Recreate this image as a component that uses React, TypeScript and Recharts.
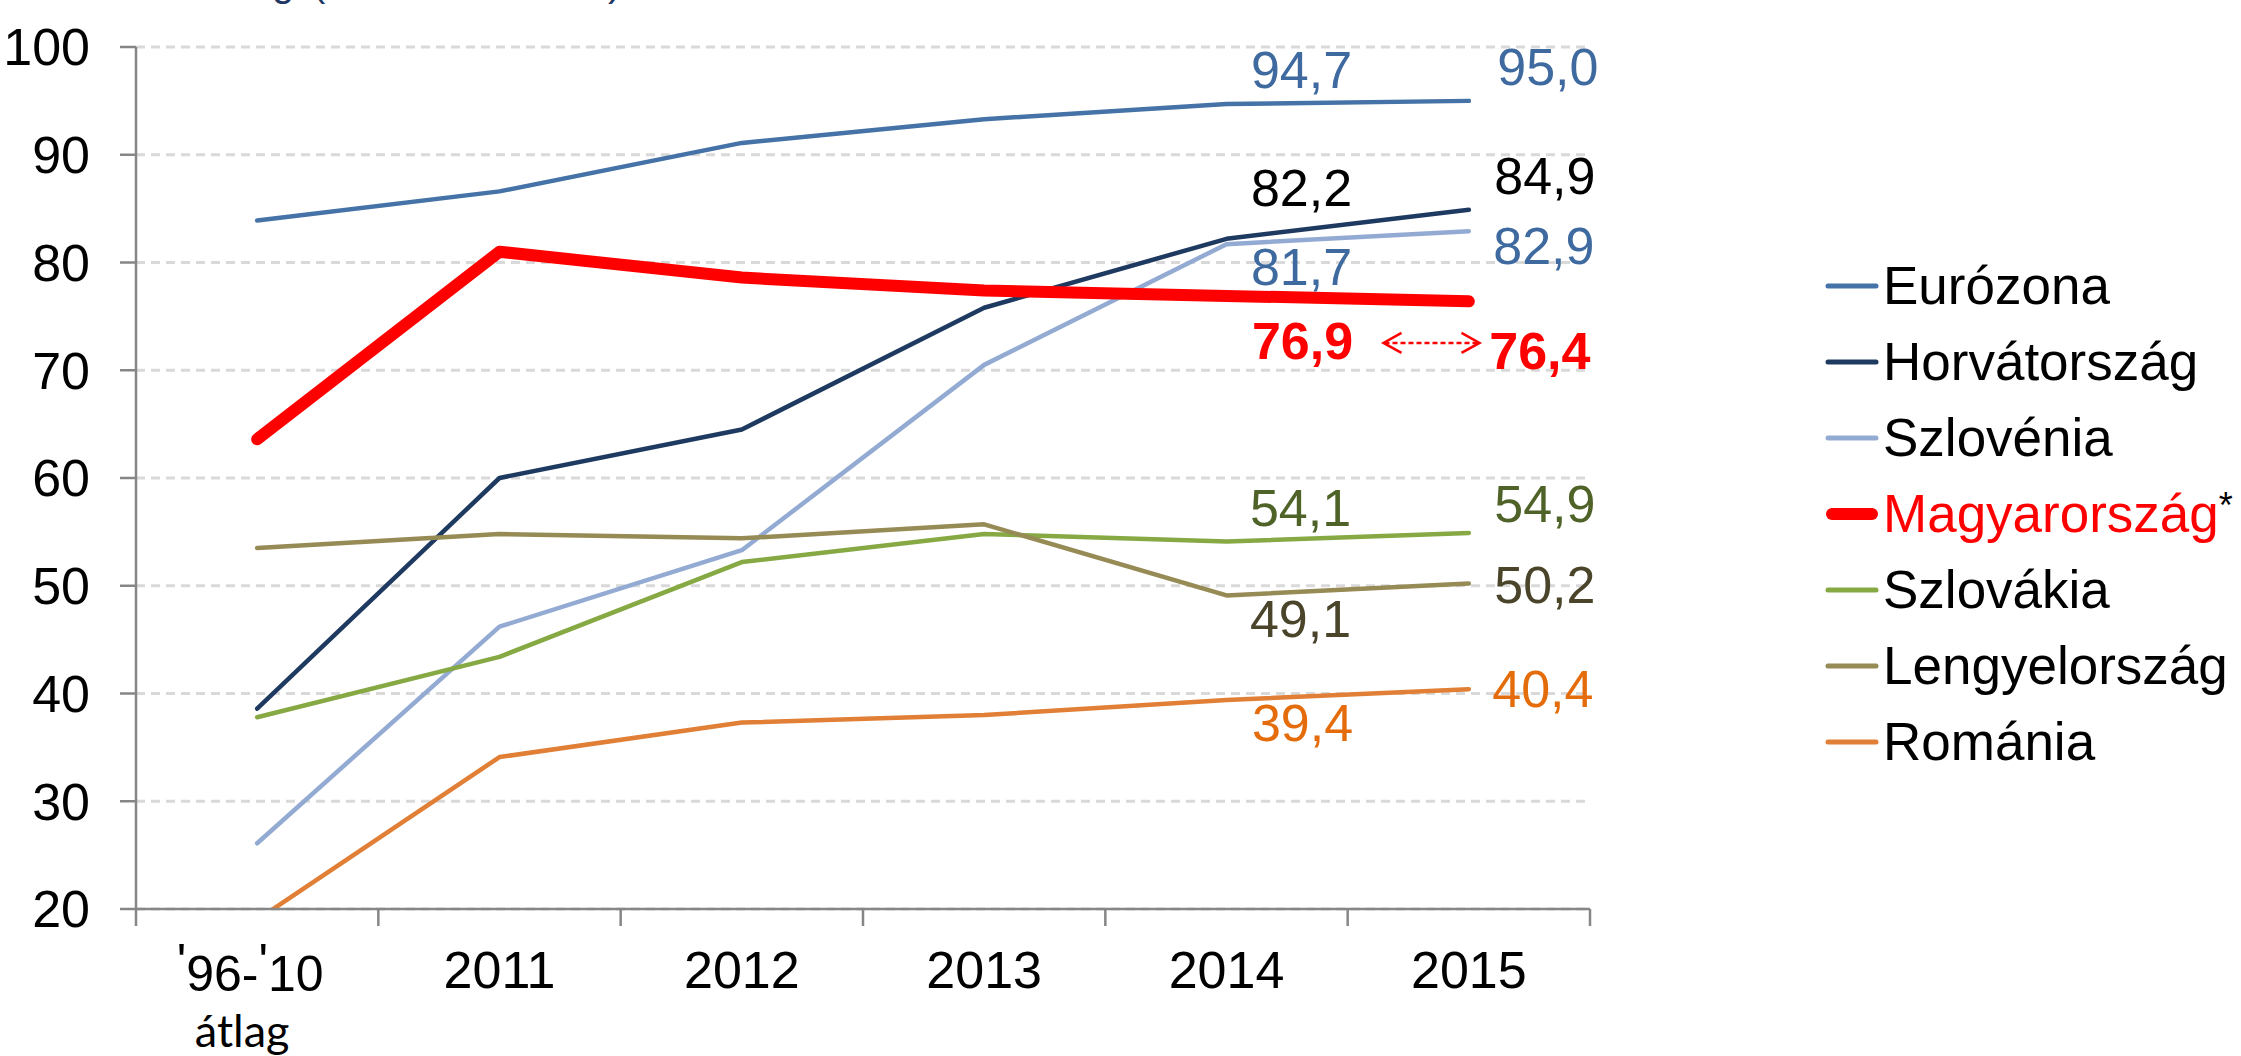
import React from 'react';
import { LineChart, Line, XAxis, YAxis, CartesianGrid, Legend, LabelList } from 'recharts';

const categories = ["'96-'10 átlag", '2011', '2012', '2013', '2014', '2015'];
const eurozona = [83.9, 86.6, 91.1, 93.3, 94.7, 95.0];
const horvatorszag = [38.6, 60.0, 64.5, 75.8, 82.2, 84.9];
const szlovenia = [26.1, 46.2, 53.3, 70.5, 81.7, 82.9];
const magyarorszag = [63.6, 81.0, 78.6, 77.4, 76.9, 76.4];
const szlovakia = [37.8, 43.4, 52.2, 54.8, 54.1, 54.9];
const lengyelorszag = [53.5, 54.8, 54.4, 55.7, 49.1, 50.2];
const romania = [19.0, 34.1, 37.3, 38.0, 39.4, 40.4];
const yTicks = [20, 30, 40, 50, 60, 70, 80, 90, 100];

const FONT = "'Liberation Sans', Arial, Helvetica, sans-serif";
const W = 2241;
const H = 1056;
const M = { top: 47, right: 651, bottom: 0, left: 0 };
const Y_W = 136;
const X_H = 147;
const PLOT_W = W - M.right - M.left - Y_W;
const BAND = PLOT_W / categories.length;

const data = categories.map((c, i) => ({
  cat: c,
  eurozona: eurozona[i],
  horvatorszag: horvatorszag[i],
  szlovenia: szlovenia[i],
  magyarorszag: magyarorszag[i],
  szlovakia: szlovakia[i],
  lengyelorszag: lengyelorszag[i],
  romania: romania[i],
}));

type SeriesDef = {
  key: string;
  name: string;
  color: string;
  width: number;
  labelColor: string;
  bold?: boolean;
  pos: [number, number][];
};

const SERIES: SeriesDef[] = [
  { key: 'eurozona', name: 'Eurózona', color: '#4572A7', width: 4.5, labelColor: '#3E6A9F', pos: [[75, -35], [79, -35]] },
  { key: 'horvatorszag', name: 'Horvátország', color: '#1F3A60', width: 4.5, labelColor: '#000000', pos: [[75, -52], [76, -35]] },
  { key: 'szlovenia', name: 'Szlovénia', color: '#93ABD3', width: 4.5, labelColor: '#3E6A9F', pos: [[75, 22], [75, 14]] },
  { key: 'magyarorszag', name: 'Magyarország', color: '#FF0000', width: 12, labelColor: '#FF0000', bold: true, pos: [[76, 44], [71, 49]] },
  { key: 'szlovakia', name: 'Szlovákia', color: '#86A944', width: 4.5, labelColor: '#4F6228', pos: [[74, -35], [76, -30]] },
  { key: 'lengyelorszag', name: 'Lengyelország', color: '#968A55', width: 4.5, labelColor: '#4A452A', pos: [[74, 23], [76, 0]] },
  { key: 'romania', name: 'Románia', color: '#E07F35', width: 4.5, labelColor: '#E46C0A', pos: [[76, 22], [74, -1]] },
];

const fmt = (v: number) => v.toFixed(1).replace('.', ',');

const makeLabel = (s: SeriesDef) => (props: any) => {
  const { x, y, value, index } = props;
  if (index < 4 || x == null || y == null) return null;
  const [dx, dy] = s.pos[index - 4];
  const cx = x + dx;
  const base = y + dy + 19;
  return (
    <g>
      <text
        x={cx}
        y={base}
        textAnchor="middle"
        fontFamily={FONT}
        fontSize={52}
        fontWeight={s.bold ? 'bold' : 'normal'}
        fill={s.labelColor}
      >
        {fmt(Number(value))}
      </text>
      {s.key === 'magyarorszag' && index === 4 && (
        <g stroke="#FF0000" strokeWidth={2.5} fill="none">
          <line x1={x + 158} y1={y + 47} x2={x + 251} y2={y + 47} strokeDasharray="5 3" />
          <polyline points={`${x + 175},${y + 37} ${x + 157},${y + 47} ${x + 175},${y + 57}`} />
          <polyline points={`${x + 235},${y + 37} ${x + 253},${y + 47} ${x + 235},${y + 57}`} />
        </g>
      )}
    </g>
  );
};

const raised = (s: string) => {
  const parts = s.split("'");
  return parts.map((p, i) => (
    <React.Fragment key={i}>
      {i > 0 && <tspan dy={-12}>'</tspan>}
      <tspan dy={i > 0 ? 12 : 0}>{p}</tspan>
    </React.Fragment>
  ));
};

const XTick = (props: any) => {
  const { x, y, payload, index } = props;
  const value: string = String(payload.value);
  const last = index === categories.length - 1;
  const lines = value.split(' ');
  return (
    <g>
      <line x1={x - BAND / 2} y1={y} x2={x - BAND / 2} y2={y + 17} stroke="#868686" strokeWidth={2.5} />
      {last && <line x1={x + BAND / 2} y1={y} x2={x + BAND / 2} y2={y + 17} stroke="#868686" strokeWidth={2.5} />}
      {lines.length > 1 ? (
        <>
          <text x={x - 7} y={y + 82} textAnchor="middle" fontFamily={FONT} fontSize={50} fill="#000">
            {raised(lines[0])}
          </text>
          <text x={x - 15} y={y + 138} textAnchor="middle" fontFamily="Lato, 'Open Sans', sans-serif" fontSize={45} fill="#000">
            {lines[1]}
          </text>
        </>
      ) : (
        <text x={x} y={y + 79} textAnchor="middle" fontFamily={FONT} fontSize={52} fill="#000">
          {value}
        </text>
      )}
    </g>
  );
};

const LegendContent = (props: any) => {
  const payload: any[] = props.payload || [];
  return (
    <div style={{ fontFamily: FONT, fontSize: 53 }}>
      {SERIES.map((s) => {
        const item = payload.find((p: any) => p.dataKey === s.key);
        const color = item ? item.color : s.color;
        const isHu = s.key === 'magyarorszag';
        return (
          <div key={s.key} style={{ display: 'flex', alignItems: 'center', height: 76, whiteSpace: 'nowrap' }}>
            <svg width={54} height={16} style={{ flex: 'none' }}>
              <line
                x1={isHu ? 7 : 3}
                y1={8}
                x2={isHu ? 47 : 51}
                y2={8}
                stroke={color}
                strokeWidth={isHu ? 12 : 5}
                strokeLinecap="round"
              />
            </svg>
            <span style={{ marginLeft: 4, color: isHu ? '#FF0000' : '#000', lineHeight: '60px' }}>
              {item ? item.value : s.name}
              {isHu && (
                <span style={{ color: '#000', fontSize: 36, verticalAlign: 'top', position: 'relative', top: -8 }}>*</span>
              )}
            </span>
          </div>
        );
      })}
    </div>
  );
};

export default function App() {
  return (
    <div style={{ position: 'absolute', left: 0, top: 0, width: W, height: H, background: '#fff', overflow: 'hidden' }}>
      <LineChart width={W} height={H} data={data} margin={M}>
        <CartesianGrid vertical={false} stroke="#D9D9D9" strokeWidth={3} strokeDasharray="9 6" />
        <XAxis
          dataKey="cat"
          interval={0}
          height={X_H}
          padding={{ left: BAND / 2, right: BAND / 2 }}
          tickSize={0}
          tickMargin={0}
          tick={<XTick />}
          axisLine={{ stroke: '#868686', strokeWidth: 2.5 }}
          tickLine={false}
        />
        <YAxis
          width={Y_W}
          domain={[20, 100]}
          ticks={yTicks}
          allowDataOverflow
          interval={0}
          tickSize={16}
          tickMargin={30}
          axisLine={{ stroke: '#868686', strokeWidth: 2.5 }}
          tickLine={{ stroke: '#868686', strokeWidth: 2.5 }}
          tick={{ fontSize: 52, fill: '#000', fontFamily: FONT }}
        />
        <Legend
          layout="vertical"
          align="center"
          verticalAlign="middle"
          content={<LegendContent />}
          wrapperStyle={{ left: 1825, top: 248, width: 416, position: 'absolute' }}
        />
        {SERIES.map((s) => (
          <Line
            key={s.key}
            dataKey={s.key}
            name={s.name}
            type="linear"
            stroke={s.color}
            strokeWidth={s.width}
            strokeLinecap="round"
            strokeLinejoin="round"
            dot={false}
            activeDot={false}
            isAnimationActive={false}
          >
            <LabelList dataKey={s.key} content={makeLabel(s)} />
          </Line>
        ))}
      </LineChart>
      <svg width={W} height={20} style={{ position: 'absolute', left: 0, top: 0, pointerEvents: 'none' }}>
        <text x={272} y={-4} fontFamily={FONT} fontSize={40} fill="#1F3864">g</text>
        <text x={312} y={-4} fontFamily={FONT} fontSize={40} fill="#1F3864">(</text>
        <text x={608} y={-4} fontFamily={FONT} fontSize={40} fill="#1F3864">)</text>
      </svg>
    </div>
  );
}
